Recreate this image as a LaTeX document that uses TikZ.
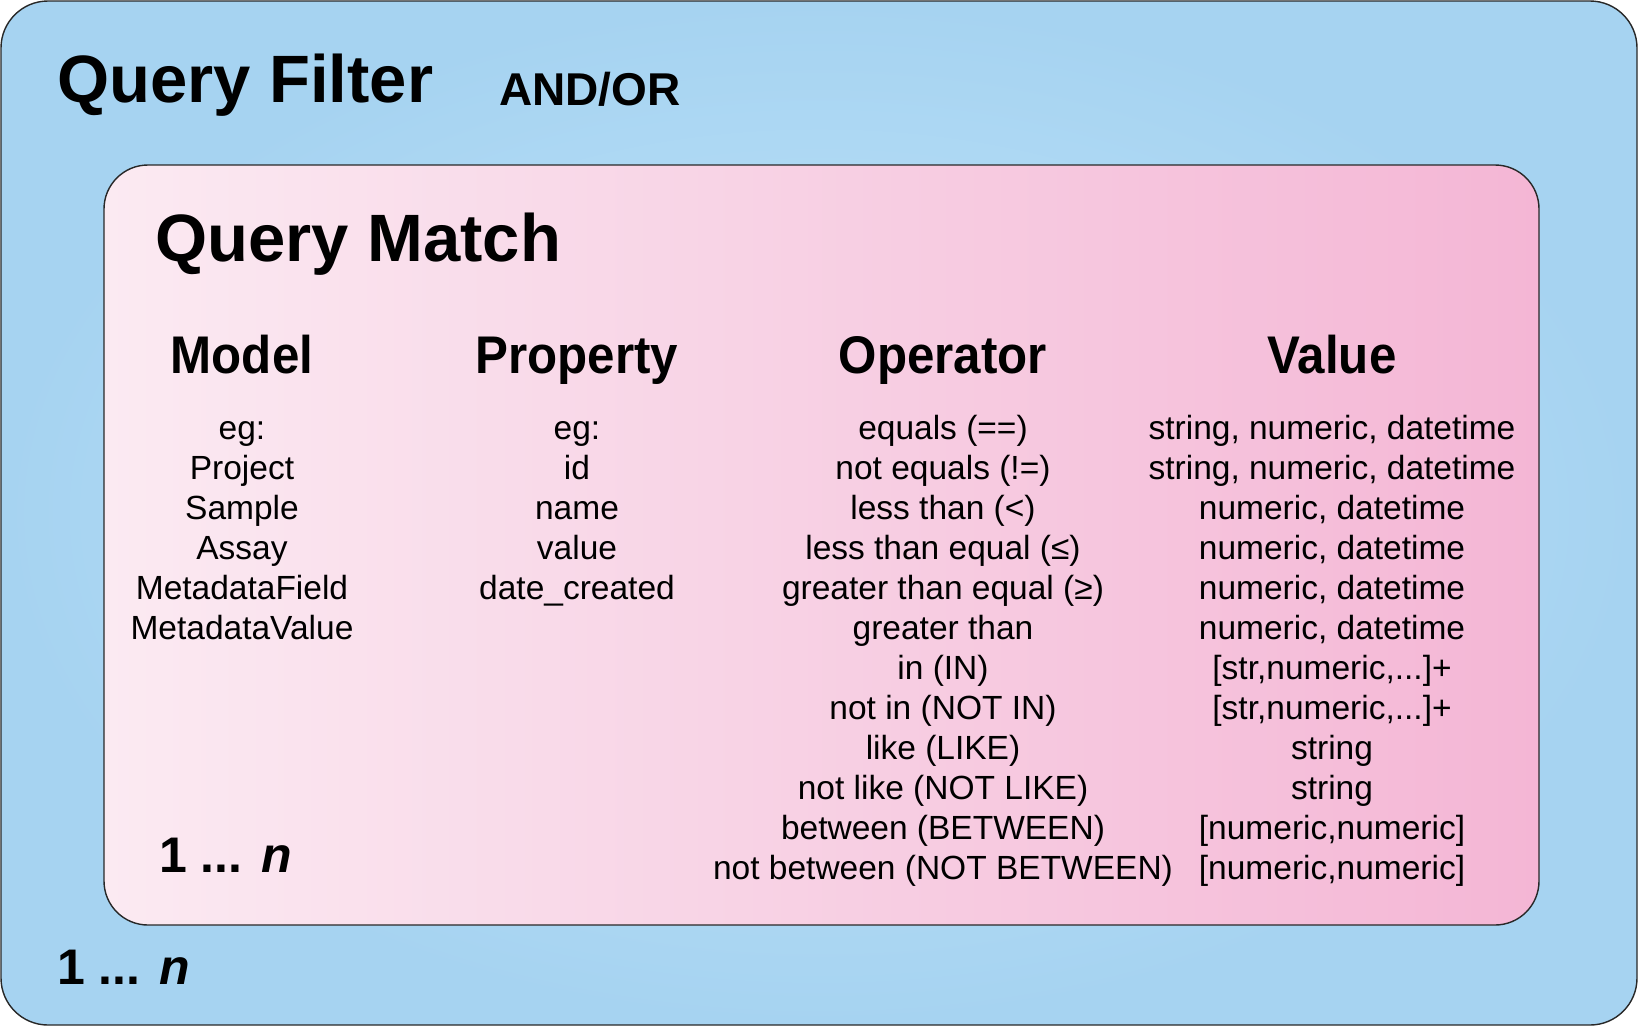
\documentclass[tikz,border=0pt]{standalone}
\usepackage{fontspec}
\setmainfont{Liberation Sans}
\newfontfamily\headfont[FakeStretch=0.93]{Liberation Sans}
\newcommand\tridots{...}
\definecolor{filterEdge}{RGB}{166,211,241}
\definecolor{filterMid}{RGB}{192,229,249}
\definecolor{matchLeft}{RGB}{251,234,242}
\definecolor{matchRight}{RGB}{244,182,213}
\definecolor{frame}{RGB}{40,40,40}
\begin{document}
\begin{tikzpicture}[x=1bp,y=-1bp,
  titletext/.style={anchor=base west, inner sep=0pt,
    font=\fontsize{67bp}{72bp}\selectfont\bfseries},
  logictext/.style={anchor=base west, inner sep=0pt,
    font=\fontsize{46bp}{50bp}\selectfont\bfseries},
  headtext/.style={anchor=base, inner sep=0pt,
    font=\headfont\fontsize{53bp}{56bp}\selectfont\bfseries},
  bodytext/.style={anchor=base, inner sep=0pt,
    font=\fontsize{33.5bp}{38bp}\selectfont},
  counttext/.style={anchor=base west, inner sep=0pt,
    font=\fontsize{50bp}{54bp}\selectfont\bfseries},
  filterbox/.style={draw=frame, line width=1.4bp, rounded corners=47bp,
    inner color=filterMid, outer color=filterEdge},
  matchbox/.style={draw=frame, line width=1.4bp, rounded corners=44bp,
    left color=matchLeft, right color=matchRight},
]
\useasboundingbox (0,0) rectangle (1638,1026);

% outer filter container
\path[filterbox] (1,1) rectangle (1637,1025);
\node[titletext] (filter) at (57,102) {Query Filter};
\node[logictext] (andor) at (499,105) {AND/OR};
\node[counttext] (fcount) at (57,984) {1 \tridots{} \textit{n}};

% inner match container
\path[matchbox] (104,165) rectangle (1539,925);
\node[titletext] (match) at (155,261) {Query Match};
\node[counttext] (mcount) at (159,872) {1 \tridots{} \textit{n}};

% column headers
\node[headtext] (hmodel) at (242,373) {Model};
\node[headtext] (hprop)  at (577,373) {Property};
\node[headtext] (hop)    at (943,373) {Operator};
\node[headtext] (hval)   at (1332,373) {Value};

% column entries
\foreach \t [count=\i from 0] in {eg:, Project, Sample, Assay, MetadataField, MetadataValue}
  \node[bodytext] (model\i) at (242,{439+40*\i}) {\t};
\foreach \t [count=\i from 0] in {eg:, id, name, value, date\_created}
  \node[bodytext] (prop\i) at (577,{439+40*\i}) {\t};
\foreach \t [count=\i from 0] in {equals (==), not equals (!=), less than (<), less than equal (≤),
    greater than equal (≥), greater than, in (IN), not in (NOT IN), like (LIKE),
    not like (NOT LIKE), between (BETWEEN), not between (NOT BETWEEN)}
  \node[bodytext] (op\i) at (943,{439+40*\i}) {\t};
\foreach \t [count=\i from 0] in {{string, numeric, datetime}, {string, numeric, datetime},
    {numeric, datetime}, {numeric, datetime}, {numeric, datetime}, {numeric, datetime},
    {[str,numeric,\tridots]+}, {[str,numeric,\tridots]+}, string, string,
    {[numeric,numeric]}, {[numeric,numeric]}}
  \node[bodytext] (val\i) at (1332,{439+40*\i}) {\t};
\end{tikzpicture}
\end{document}
